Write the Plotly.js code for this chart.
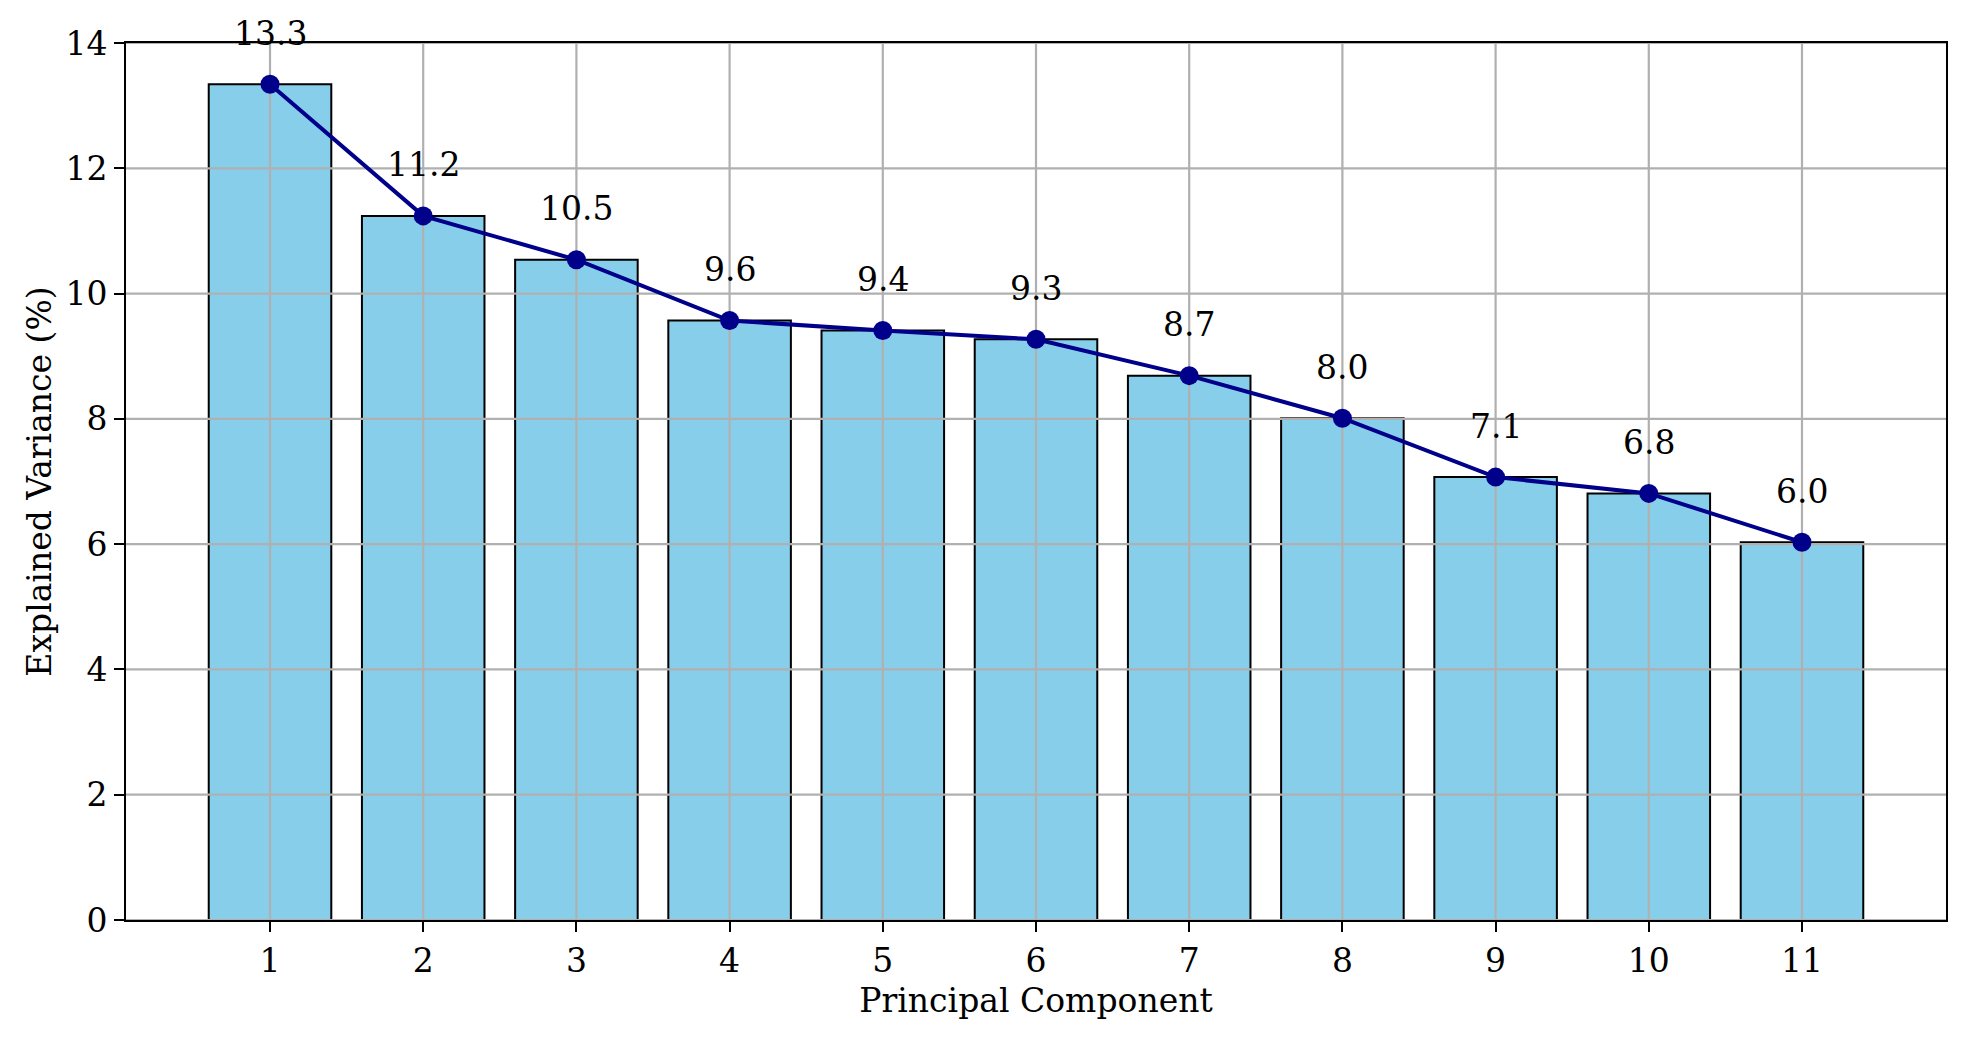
<!DOCTYPE html>
<html>
<head>
<meta charset="utf-8">
<script src="https://cdn.plot.ly/plotly-3.0.1.min.js"></script>
<style>
  html, body { margin: 0; padding: 0; background: #ffffff; }
  #chart { width: 1966px; height: 1038px; }
</style>
</head>
<body>
<div id="chart"></div>
<script>
// ---- data ----
const components = [1, 2, 3, 4, 5, 6, 7, 8, 9, 10, 11];
const explainedVariance = [13.34, 11.24, 10.54, 9.57, 9.41, 9.27, 8.69, 8.01, 7.07, 6.81, 6.03];
const yTickValues = [0, 2, 4, 6, 8, 10, 12, 14];
const xTitle = 'Principal Component';
const yTitle = 'Explained Variance (%)';

// ---- styling ----
const FONT = 'DejaVu Serif, serif';
const FS = 33;
const GRID = '#b0b0b0';
const barWidth = 0.8;

const lo = Math.min(...components) - barWidth / 2;
const hi = Math.max(...components) + barWidth / 2;
const pad = 0.05 * (hi - lo);

// grid lines drawn as traces so they sit above bars but below the line
const gx = [], gy = [];
components.forEach(c => { gx.push(c, c, null); gy.push(-1000, 1000, null); });
const hx = [], hy = [];
yTickValues.forEach(t => { hx.push(-1000, 1000, null); hy.push(t, t, null); });

const traces = [
  {
    type: 'bar',
    x: components,
    y: explainedVariance,
    width: barWidth,
    marker: { color: '#87CEEB', line: { color: '#000000', width: 2 } },
    hoverinfo: 'skip',
    showlegend: false
  },
  {
    type: 'scatter', mode: 'lines',
    x: gx, y: gy,
    line: { color: GRID, width: 2.2 },
    hoverinfo: 'skip', showlegend: false, connectgaps: false
  },
  {
    type: 'scatter', mode: 'lines',
    x: hx, y: hy,
    line: { color: GRID, width: 2.2 },
    hoverinfo: 'skip', showlegend: false, connectgaps: false
  },
  {
    type: 'scatter', mode: 'lines+markers',
    x: components,
    y: explainedVariance,
    line: { color: '#00008B', width: 4 },
    marker: { color: '#00008B', size: 19 },
    showlegend: false
  }
];

const annotations = components.map((c, i) => ({
  x: c, y: explainedVariance[i], xref: 'x', yref: 'y',
  text: explainedVariance[i].toFixed(1),
  showarrow: false, yanchor: 'middle', xanchor: 'center', yshift: 51,
  font: { family: FONT, size: FS, color: '#000000' }
}));

const layout = {
  width: 1966, height: 1038,
  margin: { l: 126, r: 20, t: 43, b: 118 },
  paper_bgcolor: '#ffffff', plot_bgcolor: '#ffffff',
  font: { family: FONT, size: FS, color: '#000000' },
  showlegend: false,
  xaxis: {
    range: [lo - pad, hi + pad],
    tickmode: 'array', tickvals: components, ticktext: components.map(String),
    showgrid: false, zeroline: false,
    showline: true, mirror: true, linecolor: '#000000', linewidth: 2,
    ticks: 'outside', ticklen: 10, tickwidth: 2, tickcolor: '#000000',
    tickfont: { family: FONT, size: FS, color: '#000000' },
    title: { text: xTitle, font: { family: FONT, size: FS, color: '#000000' }, standoff: 10 },
    layer: 'above traces'
  },
  yaxis: {
    range: [yTickValues[0], yTickValues[yTickValues.length - 1]],
    tickmode: 'array', tickvals: yTickValues, ticktext: yTickValues.map(String),
    showgrid: false, zeroline: false,
    showline: true, mirror: true, linecolor: '#000000', linewidth: 2,
    ticks: 'outside', ticklen: 10, tickwidth: 2, tickcolor: '#000000',
    tickfont: { family: FONT, size: FS, color: '#000000' },
    title: { text: yTitle, font: { family: FONT, size: FS, color: '#000000' }, standoff: 4 },
    layer: 'above traces'
  },
  annotations: annotations
};

Plotly.newPlot('chart', traces, layout, { displayModeBar: false, staticPlot: true });
</script>
</body>
</html>
